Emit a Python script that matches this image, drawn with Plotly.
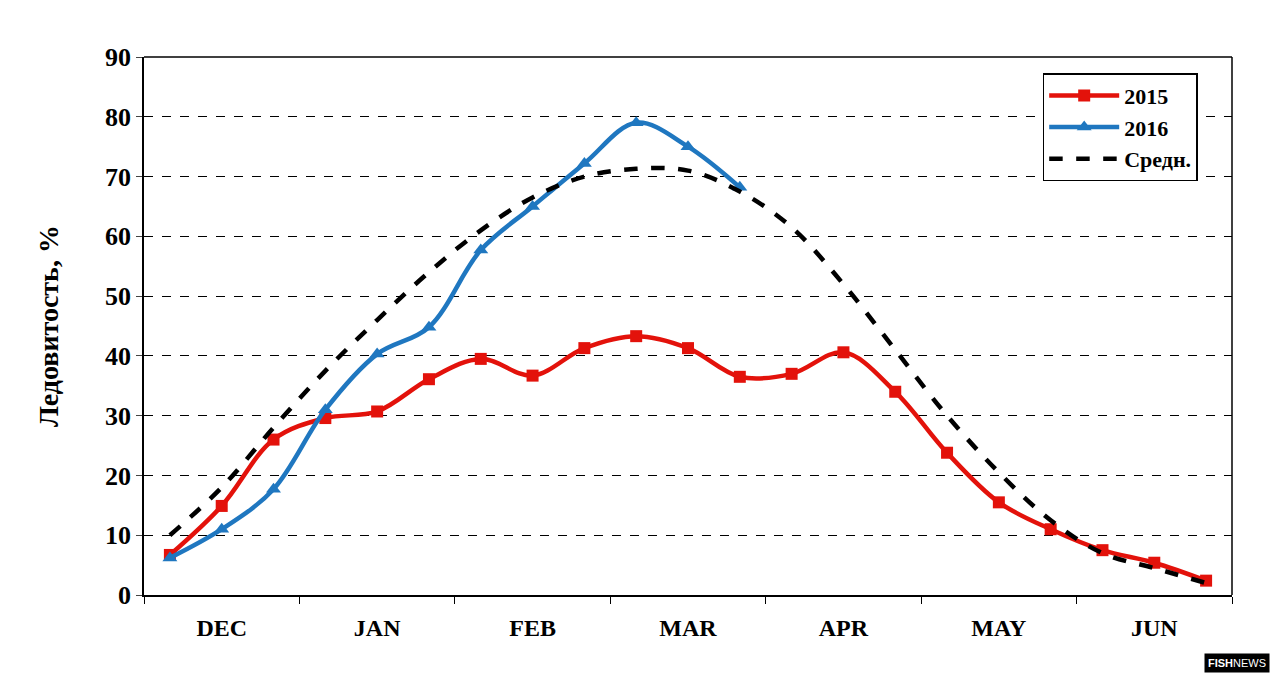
import plotly.graph_objects as go

months = ["DEC", "JAN", "FEB", "MAR", "APR", "MAY", "JUN"]
x_idx = list(range(21))
y2015 = [6.7, 14.9, 26.0, 29.6, 30.7, 36.1, 39.5, 36.7, 41.3, 43.3, 41.3, 36.5,
         37.0, 40.6, 34.0, 23.8, 15.5, 11.0, 7.5, 5.4, 2.4]
y2016 = [6.2, 11.0, 17.7, 31.0, 40.3, 44.8, 57.7, 65.0, 72.2, 79.0, 75.0, 68.2]
y_avg = [10.0, 18.0, 28.0, 37.5, 46.0, 54.0, 61.0, 66.5, 70.0, 71.3, 71.0, 67.5,
         61.5, 52.0, 41.0, 30.0, 20.5, 12.5, 7.0, 4.5, 2.0]

fig = go.Figure()
fig.add_trace(go.Scatter(x=x_idx, y=y2015, name="<b>2015</b>", mode="lines+markers",
                         line=dict(color="#e3120b", width=4.5, shape="spline"),
                         marker=dict(symbol="square", size=12, color="#e3120b")))
fig.add_trace(go.Scatter(x=x_idx[:len(y2016)], y=y2016, name="<b>2016</b>", mode="lines+markers",
                         line=dict(color="#1f77c0", width=4.5, shape="spline"),
                         marker=dict(symbol="triangle-up", size=13, color="#1f77c0")))
fig.add_trace(go.Scatter(x=x_idx, y=y_avg, name="<b>Средн.</b>", mode="lines",
                         line=dict(color="black", width=4.5, dash="dash", shape="spline")))

fig.update_layout(
    width=1280, height=685, paper_bgcolor="white", plot_bgcolor="white",
    margin=dict(l=136, r=56, t=49, b=98),
    font=dict(family="Liberation Serif", size=24, color="black"),
    xaxis=dict(range=[-0.5, 20.5], tickvals=[1, 4, 7, 10, 13, 16, 19],
               ticktext=["<b>%s</b>" % m for m in months], ticks="",
               showgrid=False, zeroline=False, showline=True, linecolor="black",
               linewidth=1.5, tickfont=dict(size=24), ticklabelstandoff=10,
               minor=dict(tickvals=[-0.5 + 3 * i for i in range(8)], ticks="outside",
                          ticklen=7, tickcolor="black", showgrid=False)),
    yaxis=dict(range=[0, 90], tickvals=list(range(0, 91, 10)),
               ticktext=["<b>%d</b>" % v for v in range(0, 91, 10)],
               showgrid=True, gridcolor="black", griddash="dash", gridwidth=1.2,
               zeroline=False, showline=True, linecolor="black", linewidth=1.5,
               ticks="outside", ticklen=6, tickfont=dict(size=26),
               title=dict(text="<b>Ледовитость, %</b>", font=dict(size=28), standoff=38)),
    legend=dict(x=0.826, y=0.97, xanchor="left", yanchor="top", bgcolor="white",
                bordercolor="black", borderwidth=1.5, font=dict(size=22),
                itemwidth=70, tracegroupgap=22),
    shapes=[dict(type="line", xref="paper", yref="paper", x0=1, x1=1, y0=0, y1=1,
                 line=dict(color="black", width=1.5)),
            dict(type="line", xref="paper", yref="paper", x0=0, x1=1, y0=1, y1=1,
                 line=dict(color="black", width=1.5))],
    annotations=[dict(text="<b>FISH</b>NEWS", xref="paper", yref="paper", x=1.035, y=-0.145,
                      xanchor="right", yanchor="bottom", showarrow=False,
                      font=dict(family="Liberation Sans", size=11, color="white"),
                      bgcolor="black", borderpad=3)],
)
fig.write_html("out.html")
